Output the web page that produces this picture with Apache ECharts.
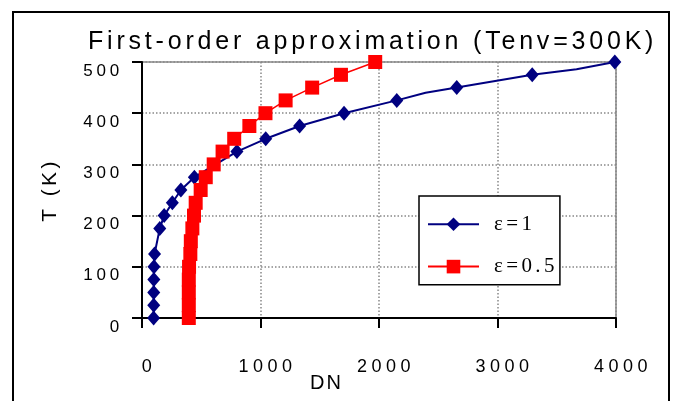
<!DOCTYPE html>
<html>
<head>
<meta charset="utf-8">
<script src="https://cdn.jsdelivr.net/npm/echarts@6/dist/echarts.min.js"></script>
<style>
html,body{margin:0;padding:0;background:#fff;}
#chart{width:676px;height:401px;}
</style>
</head>
<body>
<div id="chart"></div>
<script>
// Data
var titleText = 'First-order approximation (Tenv=300K)';
var xName = 'DN';
var yName = 'T (K)';
var seriesNames = ['\u03b5=1', '\u03b5=0.5'];

// epsilon = 1 (marked points)
var blueT  = [0, 25, 50, 75, 100, 125, 175, 200, 225, 250, 275, 325, 350, 375, 400, 425, 450, 475, 500];
var blueDN = [98, 99, 99, 100, 101, 106, 150, 187, 256, 328, 442, 801, 1044, 1330, 1705, 2150, 2656, 3293, 3990];
// epsilon = 1 (points on the curve drawn without a marker)
var blueHiddenT  = [440, 486];
var blueHiddenDN = [2393, 3667];

// epsilon = 0.5
var redT  = [0, 25, 50, 75, 100, 125, 150, 175, 200, 225, 250, 275, 300, 325, 350, 375, 400, 425, 450, 475, 500];
var redDN = [395, 395, 395, 395, 397, 408, 412, 425, 439, 453, 495, 538, 605, 680, 778, 906, 1042, 1212, 1436, 1679, 1968];

var xTicks = [0, 1000, 2000, 3000, 4000];
var yTicks = [0, 100, 200, 300, 400, 500];

// letter-spaced text, as in the reference (spacing chosen by font size)
(function () {
  var P = window.CanvasRenderingContext2D && CanvasRenderingContext2D.prototype;
  if (!P || !('letterSpacing' in P)) return;
  var table = { 25: '3.8px', 18: '4.5px', 17: '3.8px', 21: '3.4px', 20: '2px' };
  function sp(ctx) {
    var m = /(\d+(?:\.\d+)?)px/.exec(ctx.font || '');
    var s = m ? table[Math.round(parseFloat(m[1]))] : null;
    ctx.letterSpacing = s || '3px';
  }
  var ft = P.fillText, mt = P.measureText;
  P.fillText = function () { sp(this); return ft.apply(this, arguments); };
  P.measureText = function () { sp(this); return mt.apply(this, arguments); };
})();

var blueData = [];
blueDN.forEach(function (d, i) { blueData.push({ value: [d, blueT[i]] }); });
blueHiddenDN.forEach(function (d, i) { blueData.push({ value: [d, blueHiddenT[i]], symbol: 'none' }); });
blueData.sort(function (a, b) { return a.value[1] - b.value[1]; });

var redData = redDN.map(function (d, i) { return [d, redT[i]]; });

var font = 'Liberation Sans, Arial, sans-serif';
var chart = echarts.init(document.getElementById('chart'));
chart.setOption({
  animation: false,
  backgroundColor: '#fff',
  title: [
    { text: titleText, left: 88, top: 28, padding: 0,
      textStyle: { fontFamily: font, fontSize: 25, fontWeight: 'normal', color: '#000' } },
    { text: xName, left: 310, top: 372, padding: 0,
      textStyle: { fontFamily: font, fontSize: 20, fontWeight: 'normal', color: '#000' } }
  ],
  graphic: [
    { type: 'rect', z: -10, silent: true,
      shape: { x: 13, y: 12, width: 656, height: 420 },
      style: { fill: null, stroke: '#000', lineWidth: 2 } }
  ],
  legend: {
    orient: 'vertical',
    left: 419, top: 196,
    padding: [16, 2, 6, 8],
    itemGap: 18,
    itemWidth: 51, itemHeight: 17,
    backgroundColor: '#fff',
    borderColor: '#000', borderWidth: 1.5, borderRadius: 0,
    textStyle: { fontFamily: 'Liberation Serif, Times New Roman, serif', fontSize: 21, color: '#000', padding: [0, 0, 0, 10] },
    data: seriesNames
  },
  grid: {
    left: 142, top: 62, width: 474, height: 256,
    show: true, borderColor: '#a6a6a6', borderWidth: 2, backgroundColor: 'transparent'
  },
  xAxis: {
    type: 'value', min: xTicks[0], max: xTicks[xTicks.length - 1], interval: 1000,
    axisLine: { show: true, onZero: false, lineStyle: { color: '#000', width: 2 } },
    axisTick: { show: true, inside: false, length: 10, lineStyle: { color: '#000', width: 2 } },
    axisLabel: { fontFamily: font, fontSize: 18, color: '#000', margin: 38, padding: [0, 0, 0, 14],
      formatter: function (v) { return String(v); } },
    splitLine: { show: true, lineStyle: { color: '#888', width: 1.5, type: [1.5, 2] } }
  },
  yAxis: {
    type: 'value', min: yTicks[0], max: yTicks[yTicks.length - 1], interval: 100,
    name: yName, nameLocation: 'middle', nameGap: 80, nameRotate: 90,
    nameTextStyle: { fontFamily: font, fontSize: 21, color: '#000' },
    axisLine: { show: true, onZero: false, lineStyle: { color: '#000', width: 2 } },
    axisTick: { show: true, inside: false, length: 10, lineStyle: { color: '#000', width: 2 } },
    axisLabel: { fontFamily: font, fontSize: 17, color: '#000', margin: 19,
      verticalAlign: 'top', lineHeight: 18,
      formatter: function (v) { return String(v); } },
    splitLine: { show: true, lineStyle: { color: '#888', width: 1.5, type: [1.5, 2] } }
  },
  series: [
    { name: seriesNames[0], type: 'line', data: blueData, clip: false,
      symbol: 'diamond', symbolSize: [13, 15], showAllSymbol: true,
      lineStyle: { color: '#000080', width: 2 },
      itemStyle: { color: '#000080' } },
    { name: seriesNames[1], type: 'line', data: redData, clip: false,
      symbol: 'rect', symbolSize: 14, showAllSymbol: true,
      lineStyle: { color: '#ff0000', width: 1.5 },
      itemStyle: { color: '#ff0000' } }
  ]
});
</script>
</body>
</html>
